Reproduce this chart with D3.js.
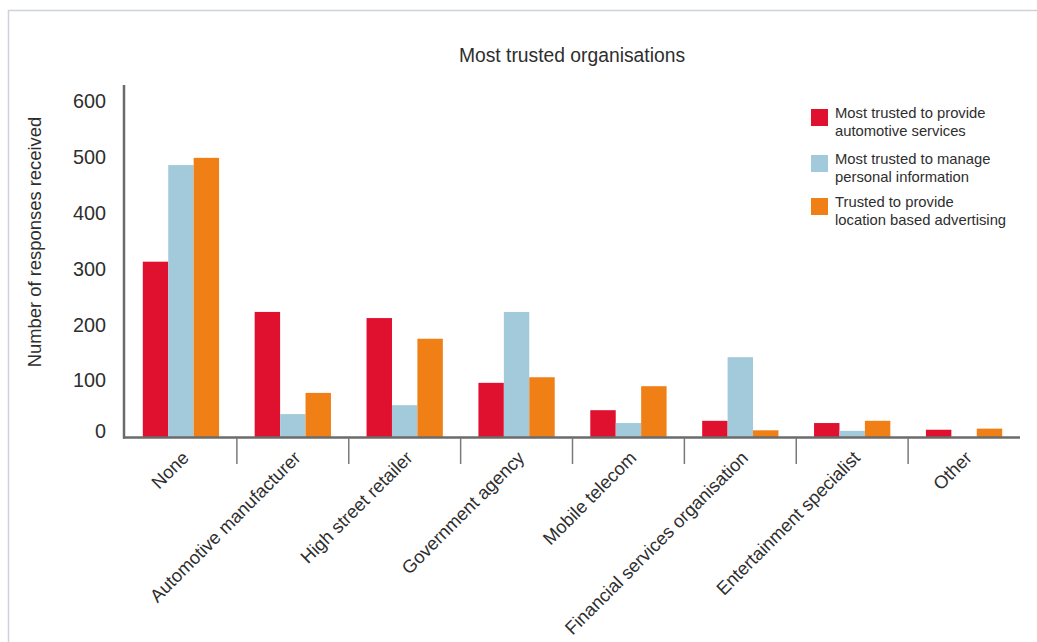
<!DOCTYPE html>
<html>
<head>
<meta charset="utf-8">
<script src="https://cdn.jsdelivr.net/npm/d3@7"></script>
<style>
  html, body { margin: 0; padding: 0; background: #fff; }
  svg { display: block; font-family: "Liberation Sans", Arial, Helvetica, sans-serif; }
</style>
</head>
<body>
<svg id="chart" width="1037" height="642"></svg>
<script>
// Organisation categories along the x axis
const categories = [
  "None",
  "Automotive manufacturer",
  "High street retailer",
  "Government agency",
  "Mobile telecom",
  "Financial services organisation",
  "Entertainment specialist",
  "Other"
];

// Series names (legend text, two lines each)
const seriesNames = [
  ["Most trusted to provide", "automotive services"],
  ["Most trusted to manage", "personal information"],
  ["Trusted to provide", "location based advertising"]
];

// Number of responses per category for each series
const automotiveServices = [314, 224, 213, 97, 48, 29, 25, 13];
const personalInformation = [487, 41, 57, 224, 25, 143, 11, 0];
const locationAdvertising = [500, 79, 176, 107, 91, 12, 29, 15];

const seriesValues = [automotiveServices, personalInformation, locationAdvertising];
const seriesColors = ["#e0102f", "#a3cadb", "#f07f15"];

// Y axis tick labels
const yTicks = [0, 100, 200, 300, 400, 500, 600];

const svg = d3.select("#chart");
const textColor = "#2e2e2e";
const axisColor = "#6b6b6b";

// Frame around the chart
svg.append("rect")
  .attr("x", 8.5).attr("y", 10.5)
  .attr("width", 1040).attr("height", 640)
  .attr("fill", "none")
  .attr("stroke", "#cdd3d8")
  .attr("stroke-width", 1.5);

// Title
svg.append("text")
  .attr("x", 572).attr("y", 57)
  .attr("text-anchor", "middle")
  .attr("dominant-baseline", "middle")
  .attr("font-size", 19.3)
  .attr("fill", textColor)
  .text("Most trusted organisations");

// Scales
const x0 = d3.scaleBand().domain(categories).range([125, 1020]).paddingInner(0).paddingOuter(0);
const x1 = d3.scaleBand().domain(d3.range(seriesValues.length))
  .range([0, x0.bandwidth()]).paddingInner(0).paddingOuter(0.7);
const y = d3.scaleLinear().domain([0, 600]).range([437, 102]);

// Bars
const groups = svg.append("g").selectAll("g")
  .data(categories)
  .join("g")
  .attr("transform", d => `translate(${x0(d)},0)`);

groups.selectAll("rect")
  .data((d, i) => seriesValues.map((vals, s) => ({ s, v: vals[i] })))
  .join("rect")
  .attr("x", d => x1(d.s))
  .attr("width", x1.bandwidth())
  .attr("y", d => y(d.v))
  .attr("height", d => y(0) - y(d.v))
  .attr("fill", d => seriesColors[d.s]);

// Y axis line and labels
svg.append("line")
  .attr("x1", 124).attr("x2", 124)
  .attr("y1", 85).attr("y2", 438.5)
  .attr("stroke", axisColor).attr("stroke-width", 2.5);

svg.append("g").selectAll("text")
  .data(yTicks)
  .join("text")
  .attr("x", 106)
  .attr("y", d => y(d) + (d === 0 ? -4 : 1))
  .attr("text-anchor", "end")
  .attr("dominant-baseline", "middle")
  .attr("font-size", 19.8)
  .attr("fill", textColor)
  .text(d => d);

// Y axis title
svg.append("text")
  .attr("transform", "translate(36,242) rotate(-90)")
  .attr("text-anchor", "middle")
  .attr("dominant-baseline", "middle")
  .attr("font-size", 18.4)
  .attr("fill", textColor)
  .text("Number of responses received");

// X axis line
svg.append("line")
  .attr("x1", 123).attr("x2", 1020)
  .attr("y1", 437.5).attr("y2", 437.5)
  .attr("stroke", axisColor).attr("stroke-width", 2.5);

// Separators between category groups
svg.append("g").selectAll("line")
  .data(categories.slice(1))
  .join("line")
  .attr("x1", d => x0(d)).attr("x2", d => x0(d))
  .attr("y1", 438).attr("y2", 464)
  .attr("stroke", "#7a7a7a").attr("stroke-width", 1.5);

// Category labels, rotated
svg.append("g").selectAll("text")
  .data(categories)
  .join("text")
  .attr("transform", d => `translate(${x0(d) + x0.bandwidth() / 2 + 9},459) rotate(-45)`)
  .attr("text-anchor", "end")
  .attr("font-size", 18.3)
  .attr("fill", textColor)
  .text(d => d);

// Legend
const legend = svg.append("g").selectAll("g")
  .data(seriesNames)
  .join("g")
  .attr("transform", (d, i) => `translate(811,${[109, 155, 198][i]})`);

legend.append("rect")
  .attr("width", 17).attr("height", 17)
  .attr("fill", (d, i) => seriesColors[i]);

legend.append("text")
  .attr("x", 24)
  .attr("y", 5.5)
  .attr("font-size", 14.8)
  .attr("fill", textColor)
  .selectAll("tspan")
  .data(d => d)
  .join("tspan")
  .attr("x", 24)
  .attr("dy", (d, i) => i === 0 ? 0 : 17.5)
  .attr("dominant-baseline", "middle")
  .text(d => d);
</script>
</body>
</html>
